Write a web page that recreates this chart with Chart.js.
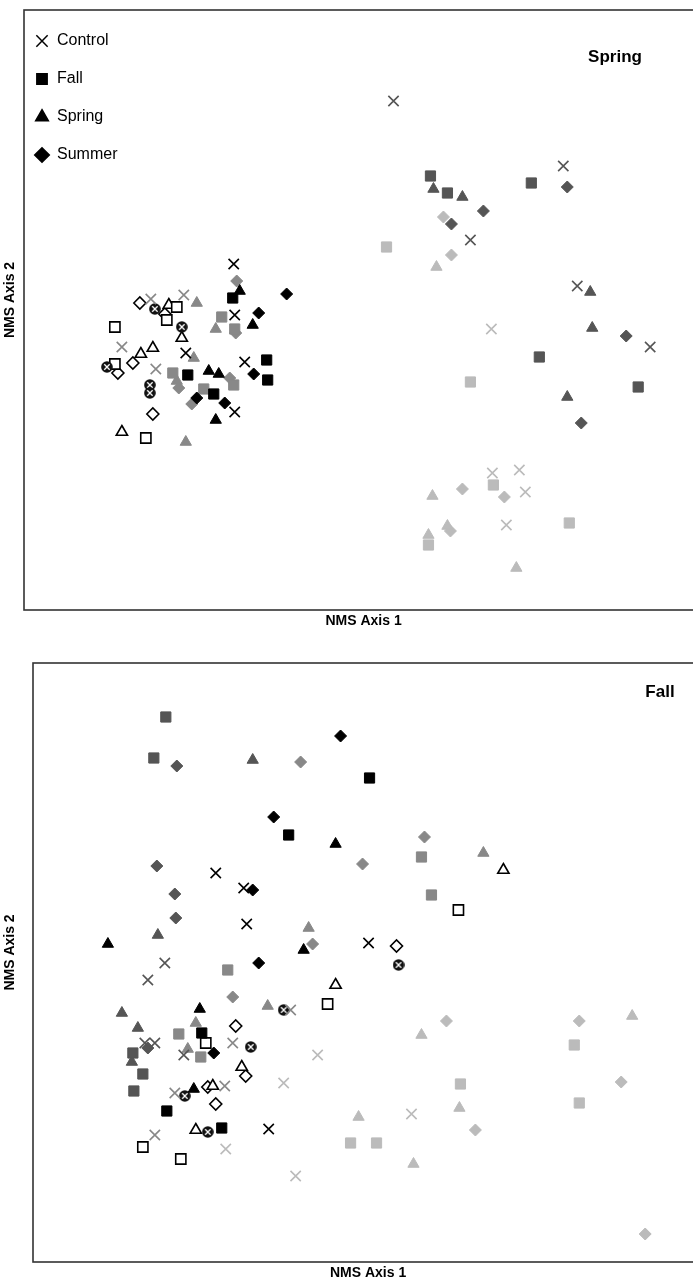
<!DOCTYPE html>
<html>
<head>
<meta charset="utf-8">
<script src="https://cdn.jsdelivr.net/npm/chart.js@4/dist/chart.umd.min.js"></script>
<style>
  html, body { margin: 0; padding: 0; background: #fff; overflow: hidden; }
  .panel { position: absolute; left: 0; }
</style>
</head>
<body>
<div class="panel" style="top:0"><canvas id="springChart" width="712" height="642"></canvas></div>
<div class="panel" style="top:642px"><canvas id="fallChart" width="712" height="641"></canvas></div>
<script>
// Treatments (symbol) and year groups (shade)
const treatments = ['Control', 'Fall', 'Spring', 'Summer'];
const shadeNames = ['black', 'dark', 'medium', 'light', 'open'];

// Spring panel - NMS scores [axis1, axis2]
const springBlack = {
    Control: [[21.0, 34.6], [21.1, 29.5], [16.2, 25.7], [22.1, 24.8], [21.1, 19.8]],
    Fall:    [[20.9, 31.2], [16.4, 23.5], [24.3, 25.0], [24.4, 23.0], [19.0, 21.6]],
    Spring:  [[21.6, 31.9], [22.9, 28.5], [18.5, 23.9], [19.5, 23.6], [19.2, 19.0]],
    Summer:  [[26.3, 31.6], [23.5, 29.7], [23.0, 23.6], [17.3, 21.2], [20.1, 20.7]]
};
const springDark = {
    Control: [[37.0, 50.9], [54.0, 44.4], [44.7, 37.0], [55.4, 32.4], [62.7, 26.3]],
    Fall:    [[40.7, 43.4], [50.8, 42.7], [42.4, 41.7], [51.6, 25.3], [61.5, 22.3]],
    Spring:  [[41.0, 42.1], [43.9, 41.3], [56.7, 31.8], [56.9, 28.2], [54.4, 21.3]],
    Summer:  [[54.4, 42.3], [46.0, 39.9], [42.8, 38.6], [60.3, 27.4], [55.8, 18.7]]
};
const springMedium = {
    Control: [[12.7, 31.1], [16.0, 31.5], [9.8, 26.3], [13.2, 24.1]],
    Fall:    [[19.8, 29.3], [21.1, 28.1], [14.9, 23.7], [21.0, 22.5], [18.0, 22.1]],
    Spring:  [[17.3, 30.7], [19.2, 28.1], [17.0, 25.2], [15.3, 22.9], [16.2, 16.8]],
    Summer:  [[21.3, 32.9], [21.2, 27.7], [20.6, 23.2], [16.8, 20.6], [15.5, 22.2]]
};
const springLight = {
    Control: [[46.8, 28.1], [46.9, 13.7], [49.6, 14.0], [50.2, 11.8], [48.3, 8.5]],
    Fall:    [[36.3, 36.3], [44.7, 22.8], [47.0, 12.5], [54.6, 8.7], [40.5, 6.5]],
    Spring:  [[41.3, 34.3], [40.9, 11.4], [42.4, 8.4], [40.5, 7.5], [49.3, 4.2]],
    Summer:  [[42.0, 39.3], [42.8, 35.5], [43.9, 12.1], [48.1, 11.3], [42.7, 7.9]]
};
const springOpen = {
    Control: [[13.1, 30.1], [15.8, 28.3], [8.3, 24.3], [12.6, 22.5], [12.6, 21.7]],
    Fall:    [[15.3, 30.3], [14.3, 29.0], [9.1, 28.3], [9.1, 24.6], [12.2, 17.2]],
    Spring:  [[14.5, 30.5], [15.8, 27.2], [11.7, 25.6], [12.9, 26.2], [9.8, 17.8]],
    Summer:  [[11.6, 30.7], [14.1, 29.6], [9.4, 23.7], [10.9, 24.7], [12.9, 19.6]]
};

// Fall panel
const fallBlack = {
    Control: [[18.3, 38.9], [21.1, 37.4], [21.4, 33.8], [33.6, 31.9], [23.6, 13.3]],
    Fall:    [[25.6, 42.7], [33.7, 48.4], [16.9, 22.9], [13.4, 15.1], [18.9, 13.4]],
    Spring:  [[30.3, 41.8], [27.1, 31.2], [7.5, 31.8], [16.7, 25.3], [16.1, 17.3]],
    Summer:  [[30.8, 52.6], [24.1, 44.5], [22.0, 37.2], [22.6, 29.9], [18.1, 20.9]]
};
const fallDark = {
    Control: [[13.2, 29.9], [11.5, 28.2], [11.2, 21.9], [12.2, 21.9], [15.1, 20.7]],
    Fall:    [[13.3, 54.5], [12.1, 50.4], [10.0, 20.9], [11.0, 18.8], [10.1, 17.1]],
    Spring:  [[22.0, 50.2], [12.5, 32.7], [8.9, 24.9], [10.5, 23.4], [9.9, 20.0]],
    Summer:  [[14.4, 49.6], [12.4, 39.6], [14.2, 36.8], [14.3, 34.4], [11.5, 21.4]]
};
const fallMedium = {
    Control: [[20.0, 21.9], [14.2, 16.9], [19.2, 17.6], [12.2, 12.7], [25.8, 25.2]],
    Fall:    [[19.5, 29.2], [14.6, 22.8], [16.8, 20.5], [38.9, 40.5], [39.9, 36.7]],
    Spring:  [[27.6, 33.4], [23.5, 25.6], [16.3, 23.9], [15.5, 21.3], [45.1, 40.9]],
    Summer:  [[26.8, 50.0], [28.0, 31.8], [20.0, 26.5], [33.0, 39.8], [39.2, 42.5]]
};
const fallLight = {
    Control: [[25.1, 17.9], [28.5, 20.7], [19.3, 11.3], [26.3, 8.6], [37.9, 14.8]],
    Fall:    [[42.8, 17.8], [31.8, 11.9], [34.4, 11.9], [54.2, 21.7], [54.7, 15.9]],
    Spring:  [[38.9, 22.7], [42.7, 15.4], [32.6, 14.5], [38.1, 9.8], [60.0, 24.6]],
    Summer:  [[41.4, 24.1], [44.3, 13.2], [54.7, 24.1], [58.9, 18.0], [61.3, 2.8]]
};
const fallOpen = {
    Control: [[25.1, 25.2], [21.8, 21.5], [15.2, 16.6], [17.5, 13.0], [36.6, 29.7]],
    Fall:    [[17.3, 21.9], [11.0, 11.5], [14.8, 10.3], [42.6, 35.2], [29.5, 25.8]],
    Spring:  [[20.9, 19.5], [18.0, 17.6], [16.3, 13.2], [47.1, 39.2], [30.3, 27.7]],
    Summer:  [[20.3, 23.6], [21.3, 18.6], [17.5, 17.5], [18.3, 15.8], [36.4, 31.6]]
};

// Styles
const FONT = '"Liberation Sans", Arial, Helvetica, sans-serif';
const shadeColors = { black: '#000000', dark: '#555555', medium: '#888888', light: '#bbbbbb', open: '#ffffff' };
const treatmentStyles = { Control: 'crossRot', Fall: 'rect', Spring: 'triangle', Summer: 'rectRot' };
const treatmentRadius = { Control: 7.3, Fall: 7.2, Spring: 6.5, Summer: 6 };

// Open control symbol: dark disc with white cross
function makeOpenControl() {
    const c = document.createElement('canvas');
    c.width = 12;
    c.height = 12;
    const g = c.getContext('2d');
    g.fillStyle = '#111';
    g.beginPath();
    g.arc(6, 6, 5.8, 0, Math.PI * 2);
    g.fill();
    g.strokeStyle = '#fff';
    g.lineWidth = 1.3;
    g.beginPath();
    g.moveTo(3.3, 3.3); g.lineTo(8.7, 8.7);
    g.moveTo(8.7, 3.3); g.lineTo(3.3, 8.7);
    g.stroke();
    return c;
}
const openControl = makeOpenControl();

function buildDatasets(groups) {
    const sets = [];
    shadeNames.forEach(shade => {
        treatments.forEach(t => {
            const open = shade === 'open';
            const isCross = t === 'Control';
            sets.push({
                label: t + ' ' + shade,
                data: groups[shade][t].map(p => ({ x: p[0], y: p[1] })),
                pointStyle: (open && isCross) ? openControl : treatmentStyles[t],
                pointRadius: treatmentRadius[t],
                pointHoverRadius: treatmentRadius[t],
                pointBackgroundColor: open ? '#ffffff' : shadeColors[shade],
                pointBorderColor: open ? '#000000' : shadeColors[shade],
                pointBorderWidth: (isCross || open) ? 1.6 : 1
            });
        });
    });
    return sets;
}

// Box, axis titles and panel label
const framePlugin = {
    id: 'frame',
    afterDraw(chart, args, opts) {
        const { ctx, chartArea: a } = chart;
        ctx.save();
        ctx.strokeStyle = '#333';
        ctx.lineWidth = 1.6;
        ctx.strokeRect(a.left, a.top, a.right - a.left, a.bottom - a.top);

        ctx.fillStyle = '#000';
        ctx.textAlign = 'center';
        ctx.textBaseline = 'middle';
        ctx.font = 'bold 14px ' + FONT;
        ctx.fillText(opts.xTitle, (a.left + a.right) / 2, a.bottom + 11);

        ctx.font = 'bold 17px ' + FONT;
        ctx.fillText(opts.label, opts.labelX, opts.labelY);

        ctx.font = 'bold 14px ' + FONT;
        ctx.translate(10, (a.top + a.bottom) / 2 - 10);
        ctx.rotate(-Math.PI / 2);
        ctx.fillText(opts.yTitle, 0, 0);
        ctx.restore();
    }
};

// Symbol key drawn inside the plot area
const keyPlugin = {
    id: 'key',
    afterDraw(chart, args, opts) {
        if (!opts.show) return;
        const { ctx, chartArea: a } = chart;
        ctx.save();
        treatments.forEach((t, i) => {
            const x = a.left + 18;
            const y = a.top + 31 + i * 38;
            ctx.fillStyle = '#000';
            ctx.strokeStyle = '#000';
            ctx.lineWidth = 1.5;
            Chart.helpers.drawPoint(ctx, {
                pointStyle: treatmentStyles[t],
                radius: t === 'Control' ? 8 : 7.3,
                rotation: 0,
                borderWidth: 1
            }, x, y);
            ctx.font = '16px ' + FONT;
            ctx.textAlign = 'left';
            ctx.textBaseline = 'middle';
            ctx.fillText(t, a.left + 33, y);
        });
        ctx.restore();
    }
};

function makeChart(id, groups, cfg) {
    return new Chart(document.getElementById(id), {
        type: 'scatter',
        data: { datasets: buildDatasets(groups) },
        options: {
            responsive: false,
            animation: false,
            devicePixelRatio: 1,
            events: [],
            layout: { padding: cfg.padding },
            scales: {
                x: { type: 'linear', min: 0, max: cfg.xMax, display: false },
                y: { type: 'linear', min: 0, max: cfg.yMax, display: false }
            },
            plugins: {
                legend: { display: false },
                tooltip: { enabled: false },
                frame: { xTitle: 'NMS Axis 1', yTitle: 'NMS Axis 2', label: cfg.label, labelX: cfg.labelX, labelY: cfg.labelY },
                key: { show: cfg.key }
            }
        },
        plugins: [framePlugin, keyPlugin]
    });
}

makeChart('springChart',
    { black: springBlack, dark: springDark, medium: springMedium, light: springLight, open: springOpen },
    { padding: { left: 24, top: 10, right: 2, bottom: 32 }, xMax: 68.0, yMax: 60, label: 'Spring', labelX: 615, labelY: 57, key: true });

makeChart('fallChart',
    { black: fallBlack, dark: fallDark, medium: fallMedium, light: fallLight, open: fallOpen },
    { padding: { left: 33, top: 21, right: 2, bottom: 21 }, xMax: 67.1, yMax: 59.9, label: 'Fall', labelX: 660, labelY: 50, key: false });
</script>
</body>
</html>
